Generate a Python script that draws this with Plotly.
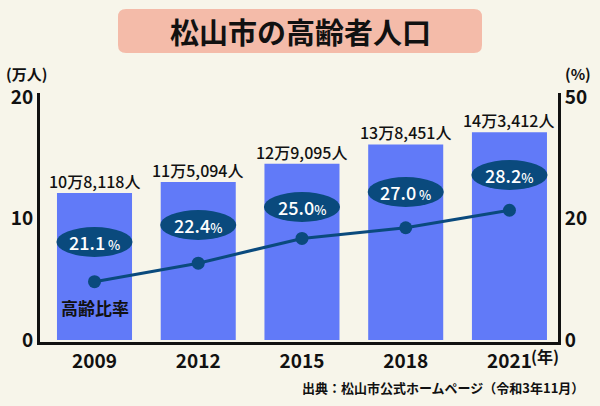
import plotly.graph_objects as go

# data
years = [2009, 2012, 2015, 2018, 2021]
year_labels = ['2009', '2012', '2015', '2018', '2021']
bar_heights = [12.1, 13.0, 14.5, 16.1, 17.1]          # bar heights on the left (万人) axis
bar_labels = ['10万8,118人', '11万5,094人', '12万9,095人', '13万8,451人', '14万3,412人']
ratio_line = [12.0, 15.8, 20.9, 23.1, 26.7]           # line on the right (%) axis
ratio_labels = ['21.1', '22.4', '25.0', '27.0', '28.2']
ratio_gap = [' ', '', '', ' ', '']
left_ticks = [0, 10, 20]
right_tick_vals = [0, 25.1, 50]
right_tick_text = ['0', '20', '50']

FONT = 'Noto Sans CJK JP'
BG = '#f7f5ea'
BAR = '#617af8'
NAVY = '#0a4a7d'
INK = '#111111'

# plot area in pixels
L, R, T, B = 40, 558, 93, 342


def px_x(px):
    return (px - L) / (R - L)


def px_y(py):
    return (B - py) / (B - T)


def note(text, px, py, size, xanchor='center', color=INK, weight='bold'):
    return dict(x=px_x(px), y=px_y(py), xref='paper', yref='paper',
                xanchor=xanchor, yanchor='middle', showarrow=False, text=text,
                font=dict(family=FONT, size=size, color=color, weight=weight))


fig = go.Figure()
fig.add_trace(go.Bar(
    x=years,
    y=bar_heights,
    width=2.17,
    marker=dict(color=BAR, line=dict(width=0)),
    showlegend=False,
    hoverinfo='skip',
))
fig.add_trace(go.Scatter(
    x=years,
    y=ratio_line,
    yaxis='y2',
    mode='lines+markers',
    line=dict(color=NAVY, width=3),
    marker=dict(color=NAVY, size=13),
    showlegend=False,
    hoverinfo='skip',
))

shapes = []
annotations = []

# value labels above the bars
for yr, h, lab in zip(years, bar_heights, bar_labels):
    annotations.append(dict(x=yr, y=h, xref='x', yref='y', xanchor='center', yanchor='bottom',
                            yshift=-2, showarrow=False, text=lab,
                            font=dict(family=FONT, size=16, color=INK, weight=500)))

# ellipse labels for the ratio
ellipse_y = [8.07, 9.47, 10.95, 12.18, 13.58]
for yr, cy, lab, gap in zip(years, ellipse_y, ratio_labels, ratio_gap):
    shapes.append(dict(type='circle', xref='x', yref='y',
                       x0=yr - 1.1, x1=yr + 1.1, y0=cy - 1.23, y1=cy + 1.23,
                       fillcolor=NAVY, line=dict(width=0), layer='above'))
    annotations.append(dict(x=yr, y=cy, xref='x', yref='y', xanchor='center', yanchor='middle',
                            showarrow=False,
                            text=lab + "<span style='font-size:13px'>" + gap + '%</span>',
                            font=dict(family=FONT, size=18, color='white', weight=500)))

# title box
bx0, bx1, by0, by1, r = px_x(118), px_x(482), px_y(9), px_y(53), 8
rx = r / (R - L)
ry = r / (B - T)
shapes.append(dict(
    type='path', xref='paper', yref='paper',
    path=(f'M {bx0 + rx},{by0} L {bx1 - rx},{by0} Q {bx1},{by0} {bx1},{by0 - ry} '
          f'L {bx1},{by1 + ry} Q {bx1},{by1} {bx1 - rx},{by1} '
          f'L {bx0 + rx},{by1} Q {bx0},{by1} {bx0},{by1 + ry} '
          f'L {bx0},{by0 - ry} Q {bx0},{by0} {bx0 + rx},{by0} Z'),
    fillcolor='#f4bba9', line=dict(width=0), layer='below'))

annotations += [
    note('松山市の高齢者人口', 300, 31, 29),
    note('(万人)', 26, 74, 15),
    note('(%)', 578, 74, 15),
    note('(年)', 529, 356, 16, xanchor='left'),
    note('出典：松山市公式ホームページ（令和3年11月）', 586, 387, 13, xanchor='right'),
    dict(x=2009, y=2.7, xref='x', yref='y', xanchor='center', yanchor='middle', showarrow=False,
         text='高齢比率', font=dict(family=FONT, size=17, color=INK, weight='bold')),
]

fig.update_layout(
    width=600,
    height=406,
    margin=dict(l=L, r=600 - R, t=T, b=406 - B, pad=0),
    paper_bgcolor=BG,
    plot_bgcolor=BG,
    font=dict(family=FONT, color=INK),
    shapes=shapes,
    annotations=annotations,
    xaxis=dict(range=[2007.424, 2022.404], tickvals=years, ticktext=year_labels,
               showline=True, linewidth=3, linecolor=INK, showgrid=False,
               zeroline=False, ticks='',
               tickfont=dict(family=FONT, size=19, color=INK, weight='bold')),
    yaxis=dict(range=[-0.16, 20.33], tickvals=left_ticks,
               showline=True, linewidth=3, linecolor=INK, showgrid=False,
               zeroline=False, ticks='',
               tickfont=dict(family=FONT, size=19, color=INK, weight='bold')),
    yaxis2=dict(range=[-0.41, 50.82], overlaying='y', side='right',
                tickvals=right_tick_vals, ticktext=right_tick_text,
                showline=True, linewidth=3, linecolor=INK, showgrid=False,
                zeroline=False, ticks='',
                tickfont=dict(family=FONT, size=19, color=INK, weight='bold')),
)

fig.write_html('out.html', config={'displayModeBar': False},
               post_script="document.body.style.margin='0px';")
